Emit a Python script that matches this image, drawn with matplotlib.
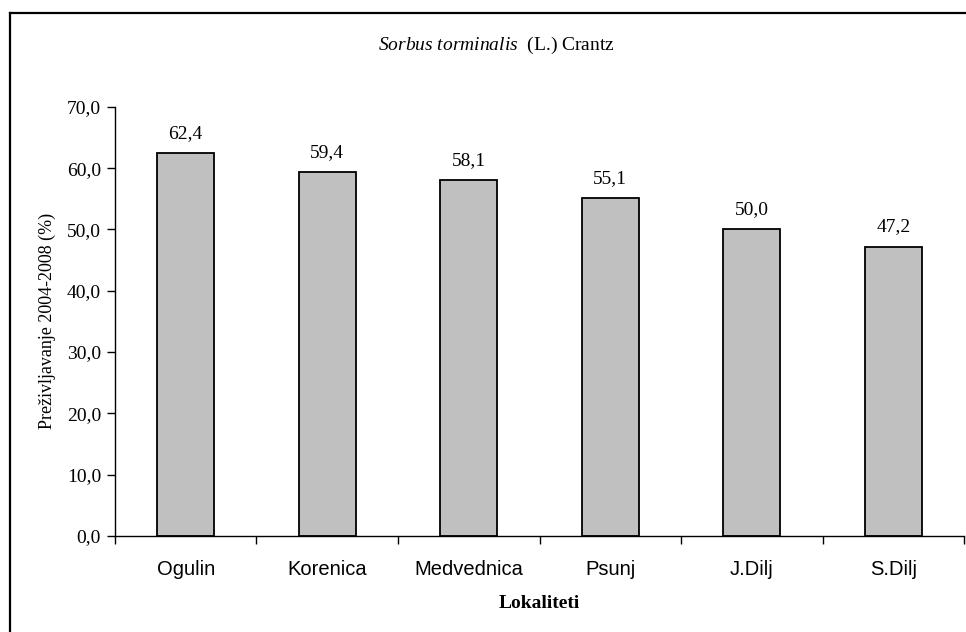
import matplotlib.pyplot as plt
from matplotlib.lines import Line2D

sites = ['Ogulin', 'Korenica', 'Medvednica', 'Psunj', 'J.Dilj', 'S.Dilj']
survival = [62.4, 59.4, 58.1, 55.1, 50.0, 47.2]
yticks = [0, 10, 20, 30, 40, 50, 60, 70]

plt.rcParams['mathtext.fontset'] = 'custom'
plt.rcParams['mathtext.rm'] = 'Liberation Serif'
plt.rcParams['mathtext.it'] = 'Liberation Serif:italic'

SERIF = 'Liberation Serif'
SANS = 'Liberation Sans'

fig = plt.figure(figsize=(9.66, 6.32), dpi=100)
ax = fig.add_axes([0.119, 0.152, 0.879, 0.679])

x = range(len(sites))
ax.bar(x, survival, width=0.40, color='#C0C0C0', edgecolor='black', lw=1.3)
for xi, v in zip(x, survival):
    ax.annotate(f"{v:.1f}".replace('.', ','), (xi, v), xytext=(0, 8),
                textcoords='offset points', ha='center', va='bottom',
                family=SERIF, fontsize=14)

ax.set_xlim(-0.5, len(sites) - 0.5)
ax.set_ylim(0, 70)
ax.set_yticks(yticks)
ax.set_yticklabels([f"{t:.1f}".replace('.', ',') for t in yticks],
                   family=SERIF, fontsize=14)
ax.set_xticks(list(x))
ax.set_xticklabels(sites, family=SANS, fontsize=14.5)
ax.set_xticks([i + 0.5 for i in range(-1, len(sites))], minor=True)
ax.tick_params(axis='x', which='major', length=0, pad=17)
ax.tick_params(axis='x', which='minor', length=6, width=1, direction='out')
ax.tick_params(axis='y', length=6, width=1, direction='out', pad=4)

for s in ['top', 'right']:
    ax.spines[s].set_visible(False)
ax.spines['left'].set_linewidth(1)
ax.spines['bottom'].set_linewidth(1)

ax.set_ylabel('Preživljavanje 2004-2008 (%)', family=SERIF, fontsize=13,
              labelpad=8)
ax.set_xlabel('Lokaliteti', family=SERIF, fontsize=14, fontweight='bold',
              labelpad=12)

fig.text(0.514, 0.928, r'$\it{Sorbus\ torminalis}$  (L.) Crantz', ha='center',
         va='center', fontsize=14, family=SERIF)

# outer frame (only top and left visible in the reference)
fig.add_artist(Line2D([0.0107, 1.0], [0.979, 0.979], color='black', lw=1.6,
                      transform=fig.transFigure))
fig.add_artist(Line2D([0.0107, 0.0107], [0.0, 0.979], color='black', lw=1.6,
                      transform=fig.transFigure))

fig.savefig('out.png', dpi=100)
